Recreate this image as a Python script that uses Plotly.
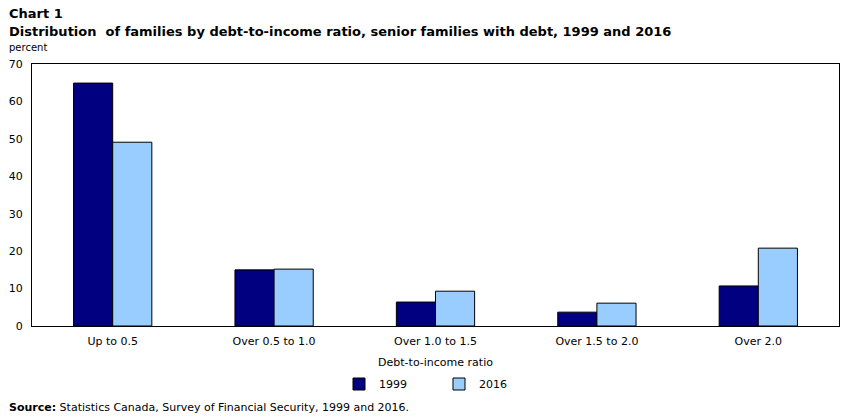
import plotly.graph_objects as go

categories = ["Up to 0.5", "Over 0.5 to 1.0", "Over 1.0 to 1.5", "Over 1.5 to 2.0", "Over 2.0"]
values_1999 = [64.9, 15.0, 6.4, 3.7, 10.7]
values_2016 = [49.1, 15.2, 9.3, 6.1, 20.8]
y_ticks = [0, 10, 20, 30, 40, 50, 60, 70]

FONT = "DejaVu Sans"
W, H = 850.0, 417.0
L, R, T, B = 32, 11, 64, 91
PW, PH = W - L - R, H - T - B

def px(pix):
    return (pix - L) / PW

def py(pix):
    return (H - B - pix) / PH

fig = go.Figure()
fig.add_trace(go.Bar(name="1999", x=categories, y=values_1999,
                     marker=dict(color="#000080", line=dict(color="black", width=1))))
fig.add_trace(go.Bar(name="2016", x=categories, y=values_2016,
                     marker=dict(color="#99ccff", line=dict(color="black", width=1))))

fig.update_layout(
    width=850, height=417,
    margin=dict(l=L, r=R, t=T, b=B, autoexpand=False),
    plot_bgcolor="white", paper_bgcolor="white",
    barmode="group", bargap=0.515, bargroupgap=0,
    font=dict(family=FONT, size=11, color="black"),
    showlegend=True,
    legend=dict(orientation="h", xref="container", yref="container",
                x=339 / W, xanchor="left", y=1 - 384 / H, yanchor="middle",
                entrywidth=55, itemwidth=30, font=dict(size=11),
                traceorder="normal"),
    xaxis=dict(showline=True, linecolor="black", linewidth=1, mirror=True,
               ticks="", showgrid=False, automargin=False, ticklabelstandoff=5,
               title=dict(text="Debt-to-income ratio", standoff=14, font=dict(size=11))),
    yaxis=dict(range=[0, 70], tickvals=y_ticks, showline=True, linecolor="black",
               linewidth=1, mirror=True, ticks="", showgrid=False, zeroline=False,
               automargin=False, ticklabelstandoff=6),
)

anns = [
    dict(text="<b>Chart 1</b>", x=px(7), y=py(4), font=dict(size=13)),
    dict(text="<b>Distribution&nbsp; of families by debt-to-income ratio, senior families with debt, 1999 and 2016</b>",
         x=px(7), y=py(22), font=dict(size=13)),
    dict(text="percent", x=px(7), y=py(40), font=dict(size=10)),
    dict(text="<b>Source:</b> Statistics Canada, Survey of Financial Security, 1999 and 2016.",
         x=px(7), y=py(399), font=dict(size=11)),
]
for a in anns:
    fig.add_annotation(xref="paper", yref="paper", showarrow=False,
                       xanchor="left", yanchor="top", **a)

fig.write_html("out.html")
